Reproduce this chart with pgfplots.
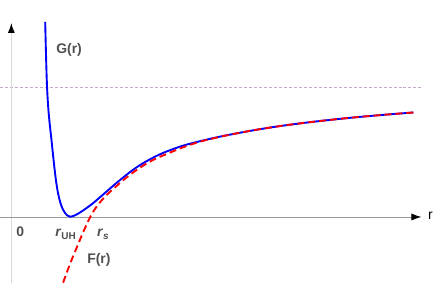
\documentclass[border=0pt]{standalone}
\usepackage{pgfplots}
\pgfplotsset{compat=1.18}
\usepackage{fontspec}
\setmainfont{Liberation Sans}
\usetikzlibrary{arrows.meta}
\definecolor{lbl}{HTML}{505050}
\definecolor{refl}{HTML}{C8A8C8}
\begin{document}
\begin{tikzpicture}
\begin{axis}[
  hide axis, clip=false, scale only axis,
  width=436pt, height=284pt,
  xmin=-11, xmax=425, ymin=-66, ymax=218,
]
\path (axis cs:-11,-66) rectangle (axis cs:425,218);
% reference level
\draw[refl, line width=0.8pt, dash pattern=on 3pt off 2pt] (axis cs:-11,130.5) -- (axis cs:412,130.5);
% axes
\draw[black!15, line width=1.2pt, -{Latex[length=10pt,width=7pt,color=black]}] (axis cs:0,-66) -- (axis cs:0,195);
\draw[black!40, line width=0.8pt, -{Latex[length=10pt,width=7pt,color=black]}] (axis cs:-11,0) -- (axis cs:412,0);
\addplot[blue, line width=1.9pt, smooth, tension=0.55] coordinates {
(34,196) (34.7,168) (35.5,140) (36.3,122) (37.3,107) (38.6,93) (40,80.5) (41.5,66)
(43,52) (44.8,37) (47,23.5) (50,12) (53,5.5) (56,1.7) (59,0.3) (63,1.3) (67,3.3)
(72,6.5) (77,10) (82,13.8) (90,20.6) (99,28.5) (107,35.3) (115,41.8) (122,47.2)
(130,52.6) (139,57.8) (147,61.9) (156,65.8) (172,71.5) (189,76) (209,80.6) (229,84.5)
(249,88.1) (269,91.2) (289,93.9) (309,96.3) (339,99.5) (370,102.3) (404,105)
};
\addplot[red, line width=1.9pt, dash pattern=on 7pt off 4pt, smooth, tension=0.55] coordinates {
(52,-66) (59,-47) (66,-30) (72.5,-14.5) (79,-0.5) (85,9.5) (91,17) (98,24.3)
(105,30.5) (113,37.5) (122,44.5) (130,50) (139,55.5) (147,59.5) (156,63.3)
(172,69.8) (189,75.5) (209,80.4) (229,84.5) (249,88.1) (269,91.2) (289,93.9)
(309,96.3) (339,99.5) (370,102.3) (404,105)
};
\node[lbl, anchor=base, font=\fontsize{14}{16}\selectfont\bfseries] at (axis cs:58,164) {G(r)};
\node[lbl, anchor=base, font=\fontsize{14}{16}\selectfont\bfseries] at (axis cs:88,-47) {F(r)};
\node[lbl, anchor=base, font=\fontsize{14}{16}\selectfont\bfseries] at (axis cs:9,-20) {0};
\node[lbl, anchor=base west, inner sep=0pt, font=\fontsize{14}{16}\selectfont\bfseries] at (axis cs:44,-20) {\textit{r}\raisebox{-0.35ex}{\fontsize{10}{12}\selectfont UH}};
\node[lbl, anchor=base west, inner sep=0pt, font=\fontsize{14}{16}\selectfont\bfseries] at (axis cs:86,-20) {\textit{r}\raisebox{-0.35ex}{\fontsize{10}{12}\selectfont\itshape s}};
\node[black, font=\fontsize{14}{16}\selectfont] at (axis cs:421,1.5) {$\mathrm{r}$};
\end{axis}
\end{tikzpicture}
\end{document}
